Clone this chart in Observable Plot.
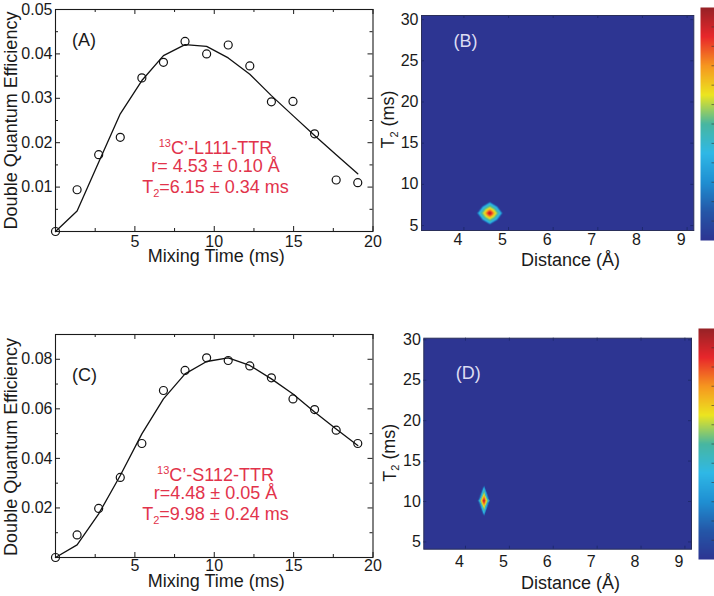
<!DOCTYPE html>
<html><head><meta charset="utf-8">
<script src="https://cdn.jsdelivr.net/npm/d3@7"></script>
<script src="https://cdn.jsdelivr.net/npm/@observablehq/plot@0.6"></script>
<style>
html,body{margin:0;padding:0;background:#fff;}
body{width:714px;height:596px;overflow:hidden;position:relative;font-family:"Liberation Sans",Arial,sans-serif;}
.p{position:absolute;}
.p svg{overflow:visible;}
</style></head><body>
<div id="A" class="p" style="left:0;top:0"></div>
<div id="B" class="p" style="left:360px;top:0"></div>
<div id="C" class="p" style="left:0;top:300px"></div>
<div id="D" class="p" style="left:360px;top:300px"></div>
<div id="cbB" class="p" style="left:700px;top:7px"></div>
<div id="cbD" class="p" style="left:698px;top:328px"></div>
<script>
// ---- DQ build-up data (panels A, C) ----
const mixTime = [0, 1.36, 2.72, 4.08, 5.44, 6.8, 8.16, 9.52, 10.88, 12.24, 13.6, 14.96, 16.32, 17.68, 19.04];
const effA = [0, 0.0094, 0.0173, 0.0212, 0.0346, 0.0381, 0.0428, 0.0400, 0.0420, 0.0373, 0.0292, 0.0293, 0.0220, 0.0116, 0.0110];
const fitA = [0, 0.0046, 0.0156, 0.0265, 0.0340, 0.0396, 0.0421, 0.0417, 0.0391, 0.0354, 0.0306, 0.0261, 0.0216, 0.0173, 0.0130];
const effC = [0, 0.0091, 0.0198, 0.0323, 0.0460, 0.0674, 0.0755, 0.0806, 0.0795, 0.0773, 0.0725, 0.0640, 0.0597, 0.0514, 0.0460];
const fitC = [0, 0.0051, 0.0176, 0.0331, 0.0499, 0.0640, 0.0741, 0.0791, 0.0806, 0.0775, 0.0721, 0.0660, 0.0587, 0.0519, 0.0452];

const timeTicksLabeled = [5, 10, 15, 20];
const timeTicksMajor = [0, 5, 10, 15, 20];
const timeTicksMinor = [2.5, 7.5, 12.5, 17.5];
const effTicksA = [0.01, 0.02, 0.03, 0.04, 0.05];
const effTicksAMinor = [0.005, 0.015, 0.025, 0.035, 0.045];
const effTicksC = [0.02, 0.04, 0.06, 0.08];
const effTicksCMinor = [0.01, 0.03, 0.05, 0.07];

// ---- probability maps (panels B, D): samples ----
// level 0 everywhere except around the peak
const bDist = [4.58,
  4.70, 4.46, 4.58, 4.58, 4.652, 4.508, 4.652, 4.508,
  4.826, 4.334, 4.58, 4.58, 4.728, 4.432, 4.728, 4.432,
  4.88, 4.28, 4.58, 4.58, 4.76, 4.40, 4.76, 4.40,
  3.05, 9.15, 3.05, 9.15];
const bT2 = [6.50,
  6.50, 6.50, 7.08, 5.92, 6.848, 6.848, 6.152, 6.152,
  6.50, 6.50, 7.69, 5.31, 7.214, 7.214, 5.786, 5.786,
  6.50, 6.50, 7.95, 5.05, 7.37, 7.37, 5.63, 5.63,
  4.4, 4.4, 30.5, 30.5];
const bLevel = [1.0,
  0.65, 0.65, 0.65, 0.65, 0.65, 0.65, 0.65, 0.65,
  0.36, 0.36, 0.36, 0.36, 0.36, 0.36, 0.36, 0.36,
  0, 0, 0, 0, 0, 0, 0, 0,
  0, 0, 0, 0];

const dDist = [4.42,
  4.476, 4.364, 4.42, 4.42,
  4.535, 4.305, 4.42, 4.42,
  4.56, 4.28, 4.42, 4.42,
  3.05, 9.15, 3.05, 9.15];
const dT2 = [10.1,
  10.1, 10.1, 10.9, 9.3,
  10.1, 10.1, 11.74, 8.46,
  10.1, 10.1, 12.1, 8.1,
  4.1, 4.1, 30.2, 30.2];
const dLevel = [1.0,
  0.65, 0.65, 0.65, 0.65,
  0.36, 0.36, 0.36, 0.36,
  0, 0, 0, 0,
  0, 0, 0, 0];

const distTicks = [4, 5, 6, 7, 8, 9];
const t2Ticks = [5, 10, 15, 20, 25, 30];
const cbTicks = [1/12, 2/12, 3/12, 4/12, 5/12, 6/12, 7/12, 8/12, 9/12, 10/12, 11/12];

// jet-like colormap as printed
const jetStops = [0, 0.125, 0.25, 0.375, 0.5, 0.625, 0.75, 0.875, 1];
const jetColors = ["#2d3592", "#2457a8", "#1f8fd2", "#2fb8e6", "#48b6a0", "#ece51f", "#f6961f", "#e8262b", "#962226"];

const FONT = "'Liberation Sans', Arial, Helvetica, sans-serif";
const RED = "#e2334b";
const colorScale = {type: "linear", domain: jetStops, range: jetColors, clamp: true};

function rich(svg) {
  d3.select(svg).selectAll("text").each(function () {
    const t = this.textContent;
    const el = d3.select(this);
    if (t.startsWith("13C")) {
      el.text(null);
      el.append("tspan").attr("font-size", "11px").attr("dy", "-0.42em").text("13");
      el.append("tspan").attr("dy", "0.42em").text(t.slice(2));
    } else if (t.startsWith("T2")) {
      el.text(null);
      el.append("tspan").text("T");
      el.append("tspan").attr("font-size", "11px").attr("dy", "0.35em").text("2");
      el.append("tspan").attr("dy", "-0.22em").text(t.slice(2));
    }
  });
  return svg;
}

function dqPanel({eff, fit, yMax, effTicks, effMinor, letter, height, marginTop, tickPad, xLabDy, yLabDy}) {
  const W = 380, mL = 55, mR = 7.5, mB = 39;
  const fw = W - mL - mR, fh = height - marginTop - mB;
  const pts = mixTime.map((t, i) => ({t, e: eff[i], f: fit[i]}));
  const tk = 5, tm = 3;
  return Plot.plot({
    width: W, height, marginLeft: mL, marginRight: mR, marginTop, marginBottom: mB,
    style: {fontFamily: FONT, fontSize: "16px", color: "#1a1a1a", background: "transparent", overflow: "visible"},
    x: {domain: [0, 20]},
    y: {domain: [0, yMax]},
    marks: [
      Plot.frame({stroke: "#1a1a1a", strokeWidth: 1.1}),
      // inward ticks on all four sides
      Plot.tickX(timeTicksMajor, {x: d => d, insetTop: fh - tk, stroke: "#1a1a1a"}),
      Plot.tickX(timeTicksMajor, {x: d => d, insetBottom: fh - tk, stroke: "#1a1a1a"}),
      Plot.tickX(timeTicksMinor, {x: d => d, insetTop: fh - tm, stroke: "#1a1a1a"}),
      Plot.tickX(timeTicksMinor, {x: d => d, insetBottom: fh - tm, stroke: "#1a1a1a"}),
      Plot.tickY(effTicks, {y: d => d, insetRight: fw - tk, stroke: "#1a1a1a"}),
      Plot.tickY(effTicks, {y: d => d, insetLeft: fw - tk, stroke: "#1a1a1a"}),
      Plot.tickY(effMinor, {y: d => d, insetRight: fw - tm, stroke: "#1a1a1a"}),
      Plot.tickY(effMinor, {y: d => d, insetLeft: fw - tm, stroke: "#1a1a1a"}),
      Plot.axisX(timeTicksLabeled, {tickSize: 0, tickPadding: tickPad, label: null, fontSize: 16}),
      Plot.axisY(effTicks, {tickSize: 0, tickPadding: 3, label: null, fontSize: 16, tickFormat: d3.format(".2f")}),
      Plot.line(pts, {x: "t", y: "f", stroke: "#111", strokeWidth: 1.3}),
      Plot.dot(pts, {x: "t", y: "e", r: 4, stroke: "#111", strokeWidth: 1.2, fill: "none"}),
      Plot.text(["Mixing Time (ms)"], {text: d => d, frameAnchor: "bottom", textAnchor: "middle", lineAnchor: "bottom", dx: 2, dy: xLabDy, fontSize: 18}),
      Plot.text(["Double Quantum Efficiency"], {text: d => d, frameAnchor: "left", textAnchor: "middle", rotate: -90, lineAnchor: "middle", dx: -44.5, dy: yLabDy, fontSize: 18}),
      Plot.text([letter], {text: d => d, frameAnchor: "top-left", textAnchor: "start", lineAnchor: "bottom", dx: 16.5, dy: letter === "(A)" ? 36 : 46, fontSize: 18}),
    ]
  });
}

function mapPanel({dist, t2, level, yDomain, height, mL, mR, mT, mB, letter, letterDy, xLabDy, yLabDx, yLabDy, tickPad}) {
  const W = 354;
  const fw = W - mL - mR, fh = height - mT - mB;
  const samples = dist.map((r, i) => ({r, t: t2[i], v: level[i]}));
  const tk = 3;
  return rich(Plot.plot({
    width: W, height, marginLeft: mL, marginRight: mR, marginTop: mT, marginBottom: mB,
    style: {fontFamily: FONT, fontSize: "16px", color: "#1a1a1a", background: "transparent", overflow: "visible"},
    x: {domain: [3.05, 9.15]},
    y: {domain: yDomain},
    color: colorScale,
    marks: [
      Plot.raster(samples, {x: "r", y: "t", fill: "v", interpolate: "barycentric"}),
      Plot.tickX(distTicks, {x: d => d, insetTop: fh - tk, stroke: "#1e2a70"}),
      Plot.tickX(distTicks, {x: d => d, insetBottom: fh - tk, stroke: "#1e2a70"}),
      Plot.tickY(t2Ticks, {y: d => d, insetRight: fw - tk, stroke: "#1e2a70"}),
      Plot.tickY(t2Ticks, {y: d => d, insetLeft: fw - tk, stroke: "#1e2a70"}),
      Plot.frame({stroke: "#2a2f5a", strokeWidth: 1}),
      Plot.axisX(distTicks, {tickSize: 0, tickPadding: tickPad, label: null, fontSize: 16, dx: -6}),
      Plot.axisY(t2Ticks, {tickSize: 0, tickPadding: 3, label: null, fontSize: 16}),
      Plot.text(["Distance (Å)"], {text: d => d, frameAnchor: "bottom", textAnchor: "middle", lineAnchor: "bottom", dx: 12.8, dy: xLabDy, fontSize: 18}),
      Plot.text(["T2 (ms)"], {text: d => d, frameAnchor: "left", textAnchor: "middle", rotate: -90, lineAnchor: "middle", dx: yLabDx, dy: yLabDy, fontSize: 18}),
      Plot.text([letter], {text: d => d, frameAnchor: "top-left", textAnchor: "start", lineAnchor: "bottom", dx: 32, dy: letterDy, fill: "#dcdcf2", fontSize: 18}),
    ]
  }));
}

function colorbar(h, w) {
  return Plot.plot({
    width: w, height: h, margin: 0,
    style: {background: "transparent"},
    x: {domain: [0, 1], axis: null},
    y: {domain: [0, 1], axis: null},
    color: colorScale,
    marks: [
      Plot.raster({fill: (x, y) => y, x1: 0, x2: 1, y1: 0, y2: 1, width: 1, height: Math.round(h)}),
      Plot.tickY(cbTicks, {y: d => d, insetLeft: w - 2.5, stroke: "#333", strokeOpacity: 0.6})
    ]
  });
}

// annotations (one text per line, each with its own baseline)
function addAnnot(svg, lines, x0, baselines) {
  const g = d3.select(svg).append("g").attr("fill", RED).attr("font-size", "18px").attr("text-anchor", "middle");
  lines.forEach((s, i) => g.append("text").attr("x", x0).attr("y", baselines[i]).text(s));
  return rich(svg);
}
const annotA = ["13C’-L111-TTR", "r= 4.53 ± 0.10 Å", "T2=6.15 ± 0.34 ms"];
const annotC = ["13C’-S112-TTR", "r=4.48 ± 0.05 Å", "T2=9.98 ± 0.24 ms"];

const svgA = dqPanel({eff: effA, fit: fitA, yMax: 0.05, effTicks: effTicksA, effMinor: effTicksAMinor, letter: "(A)",
  height: 270, marginTop: 9, tickPad: 4, xLabDy: 30.7, yLabDy: 0});
document.getElementById("A").append(addAnnot(svgA, annotA, 215.5, [151.5, 172, 193]));
const svgC = dqPanel({eff: effC, fit: fitC, yMax: 0.09, effTicks: effTicksC, effMinor: effTicksCMinor, letter: "(C)",
  height: 296, marginTop: 34, tickPad: 2, xLabDy: 29, yLabDy: 1});
document.getElementById("C").append(addAnnot(svgC, annotC, 215.5, [178.5, 199, 220]));

const svgB = mapPanel({dist: bDist, t2: bT2, level: bLevel, yDomain: [4.4, 30.5], height: 270, mL: 61, mR: 20.7, mT: 15, mB: 40,
  letter: "(B)", letterDy: 31, xLabDy: 35, yLabDx: -33, yLabDy: -3.5, tickPad: 3});
document.getElementById("B").append(svgB);
const svgD = mapPanel({dist: dDist, t2: dT2, level: dLevel, yDomain: [4.1, 30.2], height: 296, mL: 63.3, mR: 23, mT: 37.7, mB: 47.3,
  letter: "(D)", letterDy: 41, xLabDy: 39.6, yLabDx: -34, yLabDy: 9, tickPad: 6});
document.getElementById("D").append(svgD);

document.getElementById("cbB").append(colorbar(233, 14));
document.getElementById("cbD").append(colorbar(231, 16));
</script>
</body></html>
